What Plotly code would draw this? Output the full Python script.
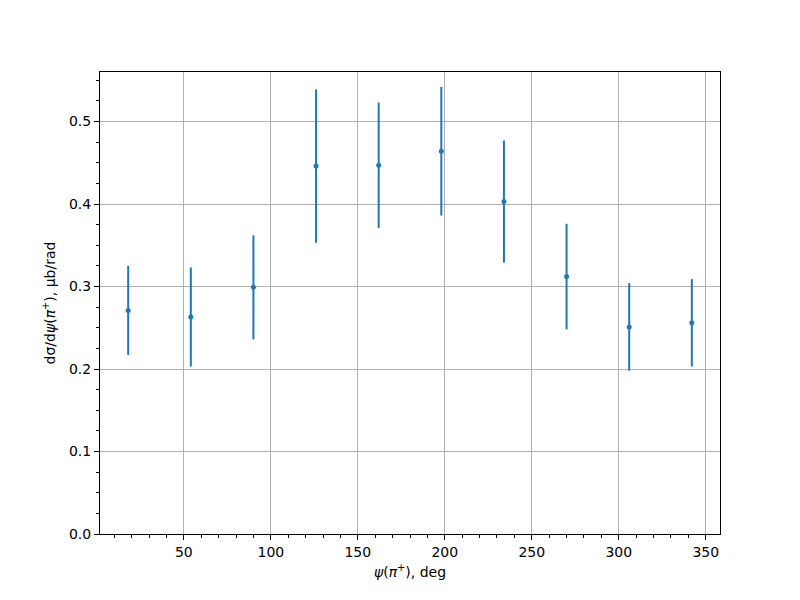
import plotly.graph_objects as go

# psi(pi+) bin centres, deg
psi = [18, 54, 90, 126, 162, 198, 234, 270, 306, 342]
# dsigma/dpsi, ub/rad
xsec = [0.271, 0.263, 0.299, 0.446, 0.447, 0.464, 0.403, 0.312, 0.251, 0.256]
xsec_err = [0.054, 0.060, 0.063, 0.093, 0.076, 0.078, 0.074, 0.064, 0.053, 0.053]

blue = '#1f77b4'
font = dict(family='DejaVu Sans', size=14, color='black')

fig = go.Figure()
fig.add_trace(go.Scatter(
    x=psi, y=xsec, mode='markers',
    marker=dict(size=5, color=blue),
    error_y=dict(type='data', array=xsec_err, color=blue,
                 thickness=2, width=0),
    showlegend=False))

axis_common = dict(
    showline=True, linecolor='black', linewidth=1, mirror=True,
    showgrid=True, gridcolor='#b0b0b0', gridwidth=1,
    ticks='outside', ticklen=5, tickwidth=1, tickcolor='black',
    zeroline=False, tickfont=font, automargin=False)

fig.update_xaxes(
    range=[1.8, 358.2], tick0=0, dtick=50,
    minor=dict(dtick=10, ticks='outside', ticklen=3, tickcolor='black',
               showgrid=False),
    title=dict(text='<i>ψ</i>(<i>π</i><sup>+</sup>), deg', font=font,
               standoff=8),
    **axis_common)
fig.update_yaxes(
    range=[0, 0.56], tick0=0, dtick=0.1, tickformat='.1f',
    minor=dict(dtick=0.025, ticks='outside', ticklen=3, tickcolor='black',
               showgrid=False),
    title=dict(text='dσ/d<i>ψ</i>(<i>π</i><sup>+</sup>), μb/rad', font=font,
               standoff=10),
    **axis_common)

# page body adds ~8px offset, so margins are trimmed to put the axes box
# at 100..720 x 72..534 in the window
fig.update_layout(
    width=800, height=600,
    margin=dict(l=92, r=88, t=64, b=74),
    plot_bgcolor='white', paper_bgcolor='white',
    font=font)

fig.write_html("out.html")
